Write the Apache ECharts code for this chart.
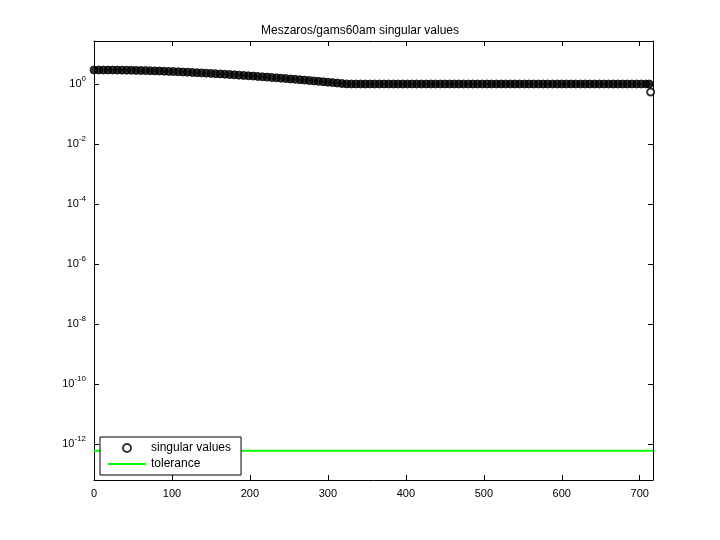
<!DOCTYPE html>
<html>
<head>
<meta charset="utf-8">
<script src="https://cdn.jsdelivr.net/npm/echarts@6/dist/echarts.min.js"></script>
<style>body{margin:0;background:#fff}#c{width:720px;height:540px}</style>
</head>
<body>
<div id="c"></div>
<script>
// log10 of singular values, sampled every 6 indices over the decaying part
const decayIdx = [0,6,12,18,24,30,36,42,48,54,60,66,72,78,84,90,96,102,108,114,120,126,132,138,144,150,156,162,168,174,180,186,192,198,204,210,216,222,228,234,240,246,252,258,264,270,276,282,288,294,300,306,312,318,324];
const decayLog = [0.467,0.467,0.466,0.466,0.465,0.464,0.462,0.459,0.456,0.453,0.450,0.446,0.442,0.437,0.432,0.426,0.420,0.414,0.407,0.400,0.393,0.386,0.378,0.370,0.362,0.353,0.344,0.335,0.325,0.315,0.305,0.295,0.285,0.274,0.263,0.252,0.240,0.229,0.217,0.205,0.193,0.181,0.168,0.155,0.142,0.129,0.116,0.102,0.088,0.074,0.060,0.046,0.031,0.016,0.003];
const flatIdx = [330,336,342,348,354,360,366,372,378,384,390,396,402,408,414,420,426,432,438,444,450,456,462,468,474,480,486,492,498,504,510,516,522,528,534,540,546,552,558,564,570,576,582,588,594,600,606,612,618,624,630,636,642,648,654,660,666,672,678,684,690,696,702,708,712];
const flatVal = [1,1,1,1,1,1,1,1,1,1,1,1,1,1,1,1,1,1,1,1,1,1,1,1,1,1,1,1,1,1,1,1,1,1,1,1,1,1,1,1,1,1,1,1,1,1,1,1,1,1,1,1,1,1,1,1,1,1,1,1,1,1,1,1,1];
const lastIdx = 714, lastVal = 0.54;
const tolerance = 6e-13;
const yTicks = [-12,-10,-8,-6,-4,-2,0];
const xMax = 717;

const pts = [];
decayIdx.forEach((x, i) => pts.push([x, decayLog[i]]));
flatIdx.forEach((x, i) => pts.push([x, Math.log10(flatVal[i])]));
const tolLog = Math.log10(tolerance);

const chart = echarts.init(document.getElementById('c'));
const font = {fontFamily: 'Liberation Sans, Arial', fontSize: 11, color: '#000'};
const tick = {inside: true, length: 5, lineStyle: {color: '#000'}};
const line = {show: true, onZero: false, lineStyle: {color: '#000'}};
chart.setOption({
  animation: false,
  title: {text: 'Meszaros/gams60am singular values', left: 'center', top: 20,
    textStyle: {fontFamily: 'Liberation Sans', fontSize: 12, fontWeight: 'normal', color: '#000'}},
  grid: {left: 94, right: 67, top: 41, bottom: 60},
  legend: {
    orient: 'vertical', left: 100, top: 437, itemGap: 4, padding: [5, 10, 5, 8],
    borderColor: '#000', borderWidth: 1, backgroundColor: '#fff', itemWidth: 38, itemHeight: 8,
    textStyle: {fontFamily: 'Liberation Sans', fontSize: 12, color: '#000'},
    data: [{name: 'singular values', icon: 'circle'},
           {name: 'tolerance', icon: 'path://M0,0H40V2H0Z'}]
  },
  xAxis: [{
    type: 'value', min: 0, max: xMax, interval: 100,
    axisLine: line, axisTick: tick,
    axisLabel: Object.assign({margin: 8, showMaxLabel: false}, font), splitLine: {show: false}
  }, {
    type: 'value', min: 0, max: xMax, interval: 100, position: 'top',
    axisLine: line, axisTick: tick, axisLabel: {show: false}, splitLine: {show: false}
  }],
  yAxis: [{
    type: 'value', min: -13.2, max: 1.433,
    axisLine: line, axisTick: Object.assign({customValues: yTicks}, tick),
    axisLabel: Object.assign({customValues: yTicks, margin: 8,
      formatter: v => '10{s|' + v + '}',
      rich: {s: {fontFamily: 'Liberation Sans', fontSize: 8, color: '#000', verticalAlign: 'bottom', padding: [0, 0, 10, 0]}}}, font),
    splitLine: {show: false}
  }, {
    type: 'value', min: -13.2, max: 1.433, position: 'right',
    axisLine: line, axisTick: Object.assign({customValues: yTicks}, tick),
    axisLabel: {show: false}, splitLine: {show: false}
  }],
  series: [{
    name: 'singular values', type: 'scatter', data: [[lastIdx, Math.log10(lastVal)]], symbol: 'circle', symbolSize: 7,
    itemStyle: {color: '#fff', borderColor: '#000', borderWidth: 2}
  }, {
    name: 'singular values', type: 'scatter', data: pts, symbol: 'circle', symbolSize: 8,
    itemStyle: {color: '#000', borderColor: '#000', borderWidth: 1}
  }, {
    name: 'tolerance', type: 'line', data: [[0, tolLog], [xMax, tolLog]], symbol: 'none',
    lineStyle: {color: '#00ff00', width: 2}, itemStyle: {color: '#00ff00'}
  }]
});
</script>
</body>
</html>
